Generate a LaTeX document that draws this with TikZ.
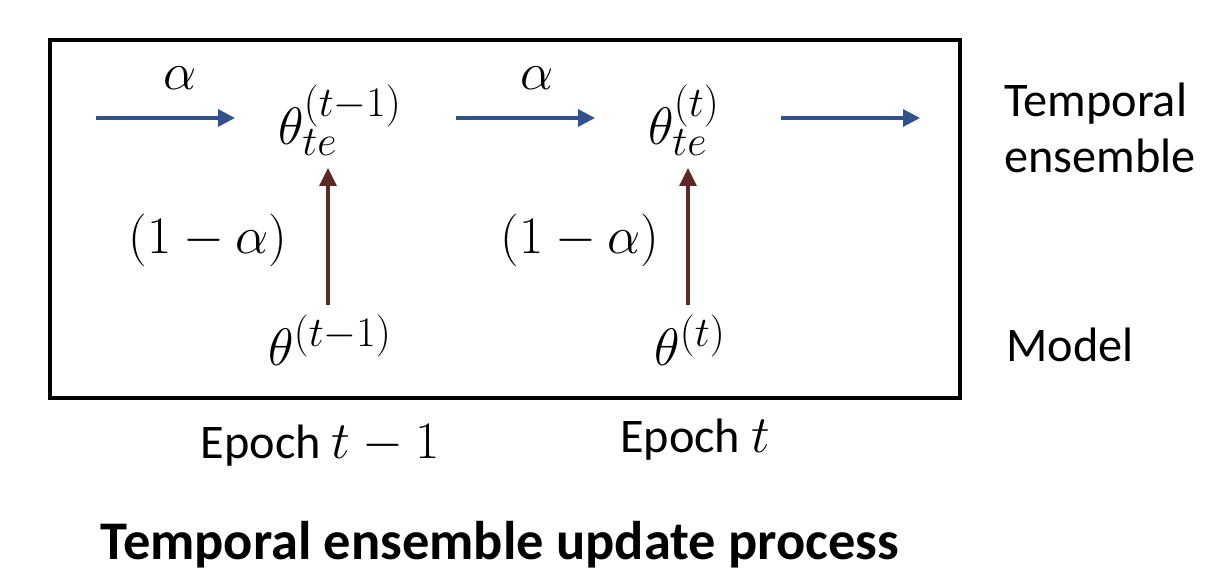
\documentclass[tikz,border=0pt]{standalone}
\usepackage{fix-cm}
\usepackage{fontspec}
\setmainfont{Carlito}
\DeclareMathSizes{27.5}{30}{24}{18}
\usepackage{tikz}
\usetikzlibrary{arrows.meta, positioning}
\definecolor{flowblue}{RGB}{47,82,143}
\definecolor{flowbrown}{RGB}{94,40,36}

\begin{document}
\begin{tikzpicture}[x=0.02cm, y=-0.02cm, >=Stealth,
    txt/.style={font=\fontsize{27.5}{32}\selectfont, inner sep=1pt},
    ens/.style={-{Triangle[length=0.34cm, width=0.34cm]}, line width=1.8pt, flowblue},
    upd/.style={-{Triangle[length=0.36cm, width=0.34cm]}, line width=1.8pt, flowbrown}]
  \useasboundingbox (0,0) rectangle (1220,584);

  % Frame
  \draw[line width=1.8pt] (50,40) rectangle (960,398);

  % Ensemble parameters
  \node[txt] (te1) at (340,120) {$\theta_{te}^{(t-1)}$};
  \node[txt] (te2) at (684,120) {$\theta_{te}^{(t)}$};

  % Model parameters
  \node[txt] (m1) at (330,340) {$\theta^{(t-1)}$};
  \node[txt] (m2) at (690,340) {$\theta^{(t)}$};

  % Free ends of the chain
  \coordinate (in) at (96,118);
  \coordinate (in-end) at (235,118);
  \coordinate (out) at (781,118);
  \coordinate (out-end) at (920,118);

  % Arrows: ensemble chain
  \draw[ens] (in) -- (in-end);
  \draw[ens] ([shift={(116,-2)}]te1.center) -- ([shift={(-89,-2)}]te2.center);
  \draw[ens] (out) -- (out-end);
  \node[txt] (a1) at (180,78) {$\alpha$};
  \node[txt] (a2) at (537,78) {$\alpha$};

  % Arrows: model into ensemble
  \draw[upd] ([shift={(-2,-35)}]m1.center) -- ([shift={(-12,48)}]te1.center);
  \draw[upd] ([shift={(-2,-35)}]m2.center) -- ([shift={(4,48)}]te2.center);
  \node[txt] (w1) at (208,240) {$(1-\alpha)$};
  \node[txt] (w2) at (580,240) {$(1-\alpha)$};

  % Row labels
  \node[txt, align=left] (ensl) at (1100,128) {Temporal\\ensemble};
  \node[txt] (modl) at (1070,345) {Model};

  % Epoch labels
  \node[txt] (ep1) at (320,445) {Epoch $t-1$};
  \node[txt] (ep2) at (695,440) {Epoch $t$};

  % Caption
  \node[font=\fontsize{31}{36}\selectfont\bfseries] (cap) at (500,545) {Temporal ensemble update process};
\end{tikzpicture}
\end{document}
